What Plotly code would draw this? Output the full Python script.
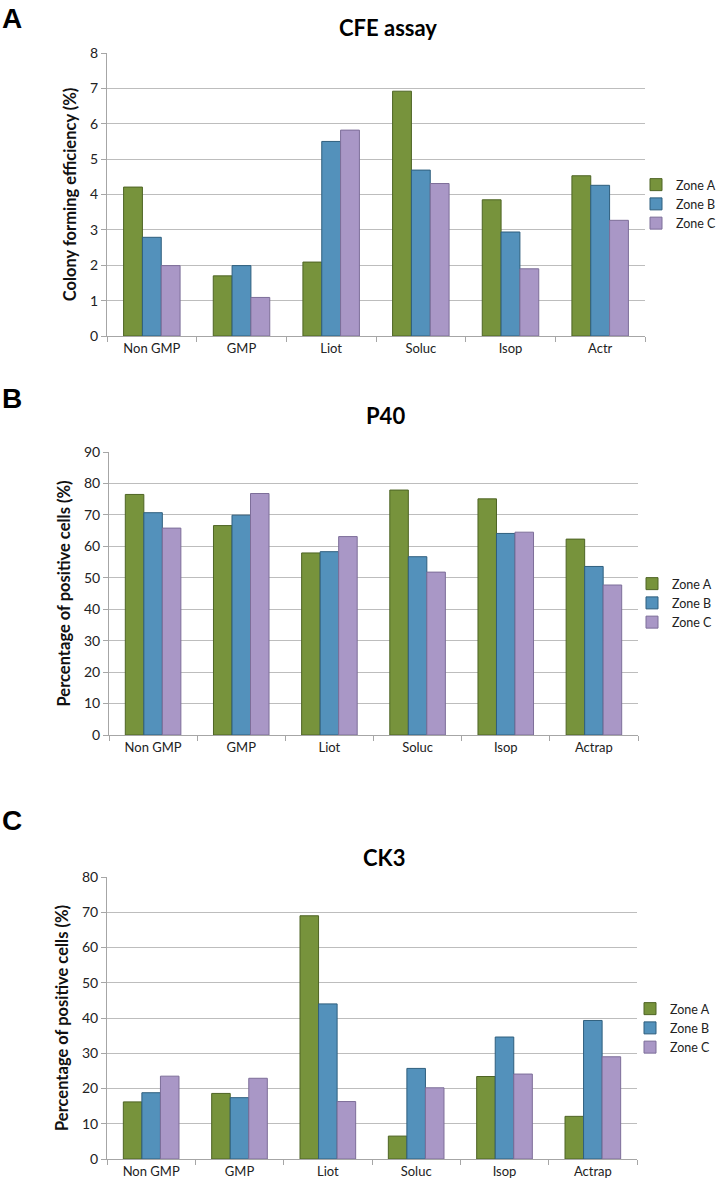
import plotly.graph_objects as go

W, H = 717, 1187

categories_a = ["Non GMP", "GMP", "Liot", "Soluc", "Isop", "Actr"]
categories_bc = ["Non GMP", "GMP", "Liot", "Soluc", "Isop", "Actrap"]
zones = ["Zone A", "Zone B", "Zone C"]

cfe_zone_a = [4.21, 1.70, 2.09, 6.92, 3.85, 4.53]
cfe_zone_b = [2.79, 1.99, 5.50, 4.69, 2.94, 4.26]
cfe_zone_c = [1.99, 1.09, 5.82, 4.31, 1.90, 3.27]

p40_zone_a = [76.5, 66.6, 57.9, 77.9, 75.1, 62.3]
p40_zone_b = [70.7, 69.9, 58.3, 56.7, 64.1, 53.6]
p40_zone_c = [65.8, 76.8, 63.1, 51.8, 64.5, 47.7]

ck3_zone_a = [16.2, 18.6, 69.0, 6.5, 23.4, 12.1]
ck3_zone_b = [18.8, 17.4, 44.0, 25.7, 34.6, 39.3]
ck3_zone_c = [23.5, 22.9, 16.3, 20.2, 24.1, 29.0]

colors = ["#77933C", "#5391BB", "#A997C6"]
edge = ["#4E6424", "#2F5F7E", "#7D6E99"]

FONT = "Lato, 'Open Sans', sans-serif"


def px_x(x):
    return x / W


def px_y(y):
    return 1 - y / H


panels = [
    dict(cats=categories_a, series=[cfe_zone_a, cfe_zone_b, cfe_zone_c], x0=107, x1=645, ytop=53, ybot=336,
         ymax=8, dtick=1, title="CFE assay", title_y=27, letter="A", letter_y=18,
         ytitle="Colony forming efficiency (%)", legend_y=204, legend_x=636),
    dict(cats=categories_bc, series=[p40_zone_a, p40_zone_b, p40_zone_c], x0=109, x1=638, ytop=452, ybot=735,
         ymax=90, dtick=10, title="P40", title_y=415, letter="B", letter_y=398,
         ytitle="Percentage of positive cells (%)", legend_y=603, legend_x=632),
    dict(cats=categories_bc, series=[ck3_zone_a, ck3_zone_b, ck3_zone_c], x0=107, x1=637, ytop=877, ybot=1159,
         ymax=80, dtick=10, title="CK3", title_y=857, letter="C", letter_y=820,
         ytitle="Percentage of positive cells (%)", legend_y=1028, legend_x=630),
]

fig = go.Figure()
layout = dict(
    width=W, height=H,
    margin=dict(l=0, r=0, t=0, b=0, autoexpand=False),
    paper_bgcolor="white", plot_bgcolor="white",
    barmode="group", bargap=0.37, bargroupgap=0.0,
    font=dict(family=FONT, size=12, color="#222"),
    annotations=[],
    showlegend=True,
)

for i, p in enumerate(panels):
    n = "" if i == 0 else str(i + 1)
    xa, ya = "x" + n, "y" + n
    lg = "legend" + n
    for k in range(3):
        fig.add_trace(go.Bar(
            x=p["cats"], y=p["series"][k], name=zones[k],
            xaxis=xa, yaxis=ya, legend=lg,
            marker=dict(color=colors[k], line=dict(color=edge[k], width=1)),
        ))
    layout["xaxis" + n] = dict(
        domain=[px_x(p["x0"]), px_x(p["x1"])], anchor=ya,
        type="category", tickson="boundaries", ticks="outside", ticklen=5,
        tickcolor="#A6A6A6", showline=True, linecolor="#A6A6A6", linewidth=1,
        showgrid=False, tickfont=dict(size=13, family=FONT, color="#222"),
    )
    layout["yaxis" + n] = dict(
        domain=[px_y(p["ybot"]), px_y(p["ytop"])], anchor=xa,
        range=[0, p["ymax"]], dtick=p["dtick"], ticks="outside", ticklen=5,
        tickcolor="#A6A6A6", showline=True, linecolor="#A6A6A6", linewidth=1,
        showgrid=True, gridcolor="#BDBDBD", gridwidth=1, zeroline=False,
        tickfont=dict(size=14, family=FONT, color="#222"),
        title=dict(text="<b>" + p["ytitle"] + "</b>", font=dict(size=16.5, family=FONT, color="#111"), standoff=9),
    )
    layout[lg] = dict(
        x=px_x(p["legend_x"]), y=px_y(p["legend_y"]), xanchor="left", yanchor="middle",
        font=dict(size=12.5, family=FONT, color="#222"), itemwidth=30,
        bgcolor="rgba(0,0,0,0)", tracegroupgap=2,
    )
    layout["annotations"].append(dict(
        text="<b>" + p["title"] + "</b>", x=px_x((p["x0"] + p["x1"]) / 2 + 12), y=px_y(p["title_y"]),
        xref="paper", yref="paper", showarrow=False, xanchor="center", yanchor="middle",
        font=dict(size=22, family=FONT, color="#000"),
    ))
    layout["annotations"].append(dict(
        text="<b>" + p["letter"] + "</b>", x=0.0, y=px_y(p["letter_y"]),
        xref="paper", yref="paper", showarrow=False, xanchor="left", yanchor="middle",
        font=dict(size=28, family="'Liberation Sans', Arial, sans-serif", color="#000"),
    ))

fig.update_layout(**layout)
fig.write_html("out.html", post_script="document.body.style.margin='0px';",
               config={"displayModeBar": False})
